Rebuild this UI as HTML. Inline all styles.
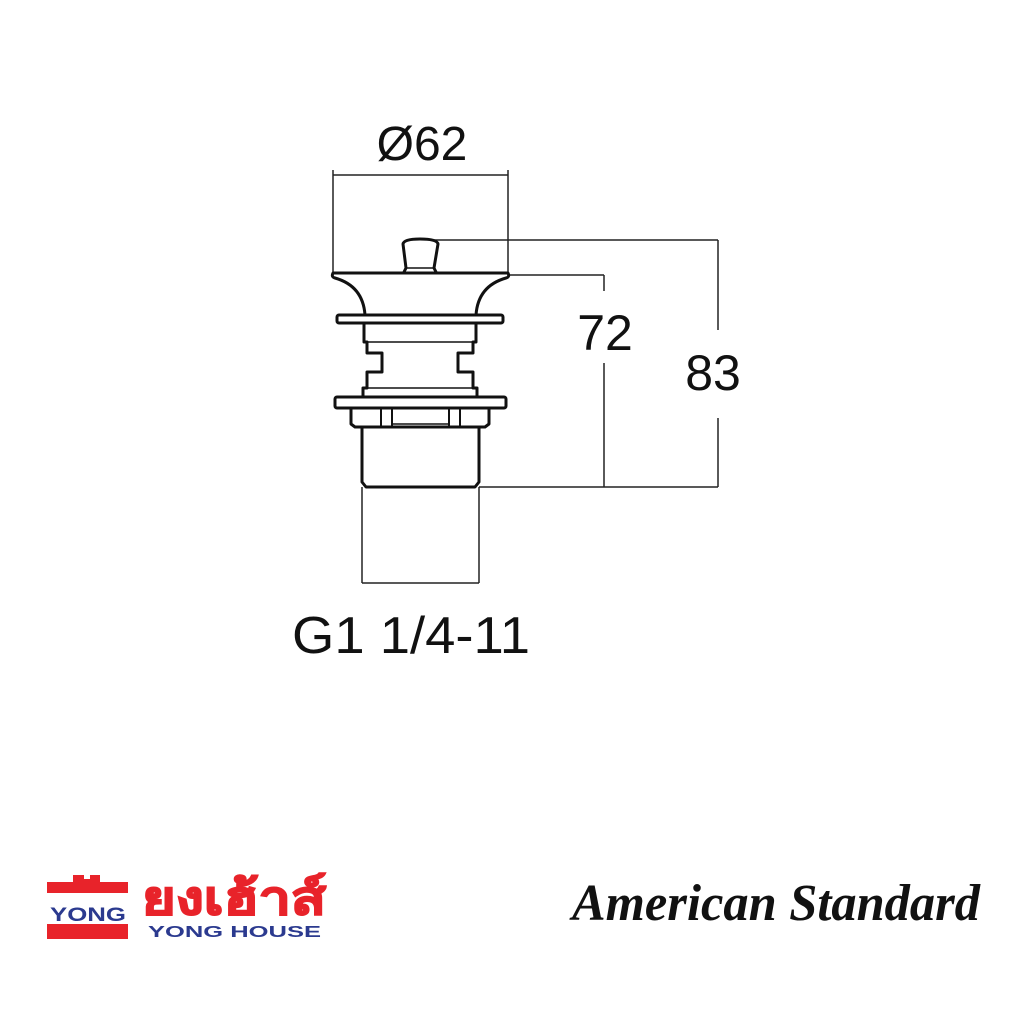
<!DOCTYPE html>
<html><head><meta charset="utf-8"><style>
html,body{margin:0;padding:0;background:#fff;width:1024px;height:1024px;overflow:hidden}
</style></head><body>
<svg width="1024" height="1024" viewBox="0 0 1024 1024" xmlns="http://www.w3.org/2000/svg">
<g fill="none" stroke="#222" stroke-width="1.5">
 <line x1="333" y1="170" x2="333" y2="275"/>
 <line x1="508" y1="170" x2="508" y2="275"/>
 <line x1="333" y1="175" x2="508" y2="175"/>
 <line x1="430" y1="240" x2="718" y2="240"/>
 <line x1="508" y1="275" x2="604" y2="275"/>
 <line x1="479" y1="487" x2="718" y2="487"/>
 <line x1="604" y1="275" x2="604" y2="291"/>
 <line x1="604" y1="363" x2="604" y2="487"/>
 <line x1="718" y1="240" x2="718" y2="330"/>
 <line x1="718" y1="418" x2="718" y2="487"/>
 <line x1="362" y1="487" x2="362" y2="583"/>
 <line x1="479" y1="487" x2="479" y2="583"/>
 <line x1="362" y1="583" x2="479" y2="583"/>
</g>
<g fill="#fff" stroke="#111" stroke-width="3" stroke-linejoin="round">
 <path d="M403 244 Q404 239 420 239 Q437 239 438 244 L434 268 L437 274 L403 274 L406 268 Z"/>
 <line x1="406" y1="268" x2="434" y2="268" stroke-width="1.5"/>
 <path d="M333 273 L508 273 Q510 277 506 278 Q478 286 476 315 L365 315 Q363 286 335 278 Q331 277 333 273 Z"/>
 <path d="M364 323 L476 323 L476 342 L473 342 L473 353 L458 353 L458 372 L473 372 L473 388 L477 388 L477 398 L363 398 L363 388 L367 388 L367 372 L382 372 L382 353 L367 353 L367 342 L364 342 Z"/>
 <line x1="367" y1="342" x2="473" y2="342" stroke-width="1.5"/>
 <line x1="367" y1="388" x2="473" y2="388" stroke-width="1.5"/>
 <rect x="337" y="315" width="166" height="8" rx="2"/>
 <path d="M351 407 L489 407 L489 424 L485 427 L355 427 L351 424 Z"/>
 <line x1="381" y1="408" x2="381" y2="426" stroke-width="2"/>
 <line x1="392" y1="408" x2="392" y2="426" stroke-width="2"/>
 <line x1="449" y1="408" x2="449" y2="426" stroke-width="2"/>
 <line x1="460" y1="408" x2="460" y2="426" stroke-width="2"/>
 <line x1="392" y1="424" x2="449" y2="424" stroke-width="1.5"/>
 <rect x="335" y="397" width="171" height="11" rx="2"/>
 <path d="M362 427 L479 427 L479 482 L475 487 L366 487 L362 482 Z"/>
</g>
<g font-family="Liberation Sans, sans-serif" fill="#111">
 <text x="422" y="160" font-size="48" text-anchor="middle">Ø62</text>
 <text x="605" y="350" font-size="50" text-anchor="middle">72</text>
 <text x="713" y="390" font-size="50" text-anchor="middle">83</text>
 <text x="292" y="653" font-size="52" textLength="238" lengthAdjust="spacingAndGlyphs">G1 1/4-11</text>
</g>
<g>
 <path d="M47 893 L47 882 L73 882 L73 875 L84 875 L84 879 L90 879 L90 875 L100 875 L100 882 L128 882 L128 893 Z" fill="#e8232a"/>
 <rect x="47" y="924" width="81" height="15" fill="#e8232a"/>
 <text x="88" y="921" font-family="Liberation Sans, sans-serif" font-weight="bold" font-size="19" fill="#2b3a8f" text-anchor="middle" textLength="76" lengthAdjust="spacingAndGlyphs">YONG</text>
 <text x="142" y="914" font-family="Liberation Sans, 'Noto Sans CJK SC', sans-serif" font-weight="bold" font-size="46" fill="#e8232a" stroke="#e8232a" stroke-width="1.5" textLength="184" lengthAdjust="spacingAndGlyphs">ยงเฮ้าส์</text>
 <text x="148" y="937" font-family="Liberation Sans, sans-serif" font-weight="bold" font-size="16" fill="#2b3a8f" textLength="173" lengthAdjust="spacingAndGlyphs">YONG HOUSE</text>
</g>
<text x="572" y="920" font-family="Liberation Serif, serif" font-style="italic" font-weight="bold" font-size="52" fill="#111" textLength="408" lengthAdjust="spacingAndGlyphs">American Standard</text>
</svg>
</body></html>
